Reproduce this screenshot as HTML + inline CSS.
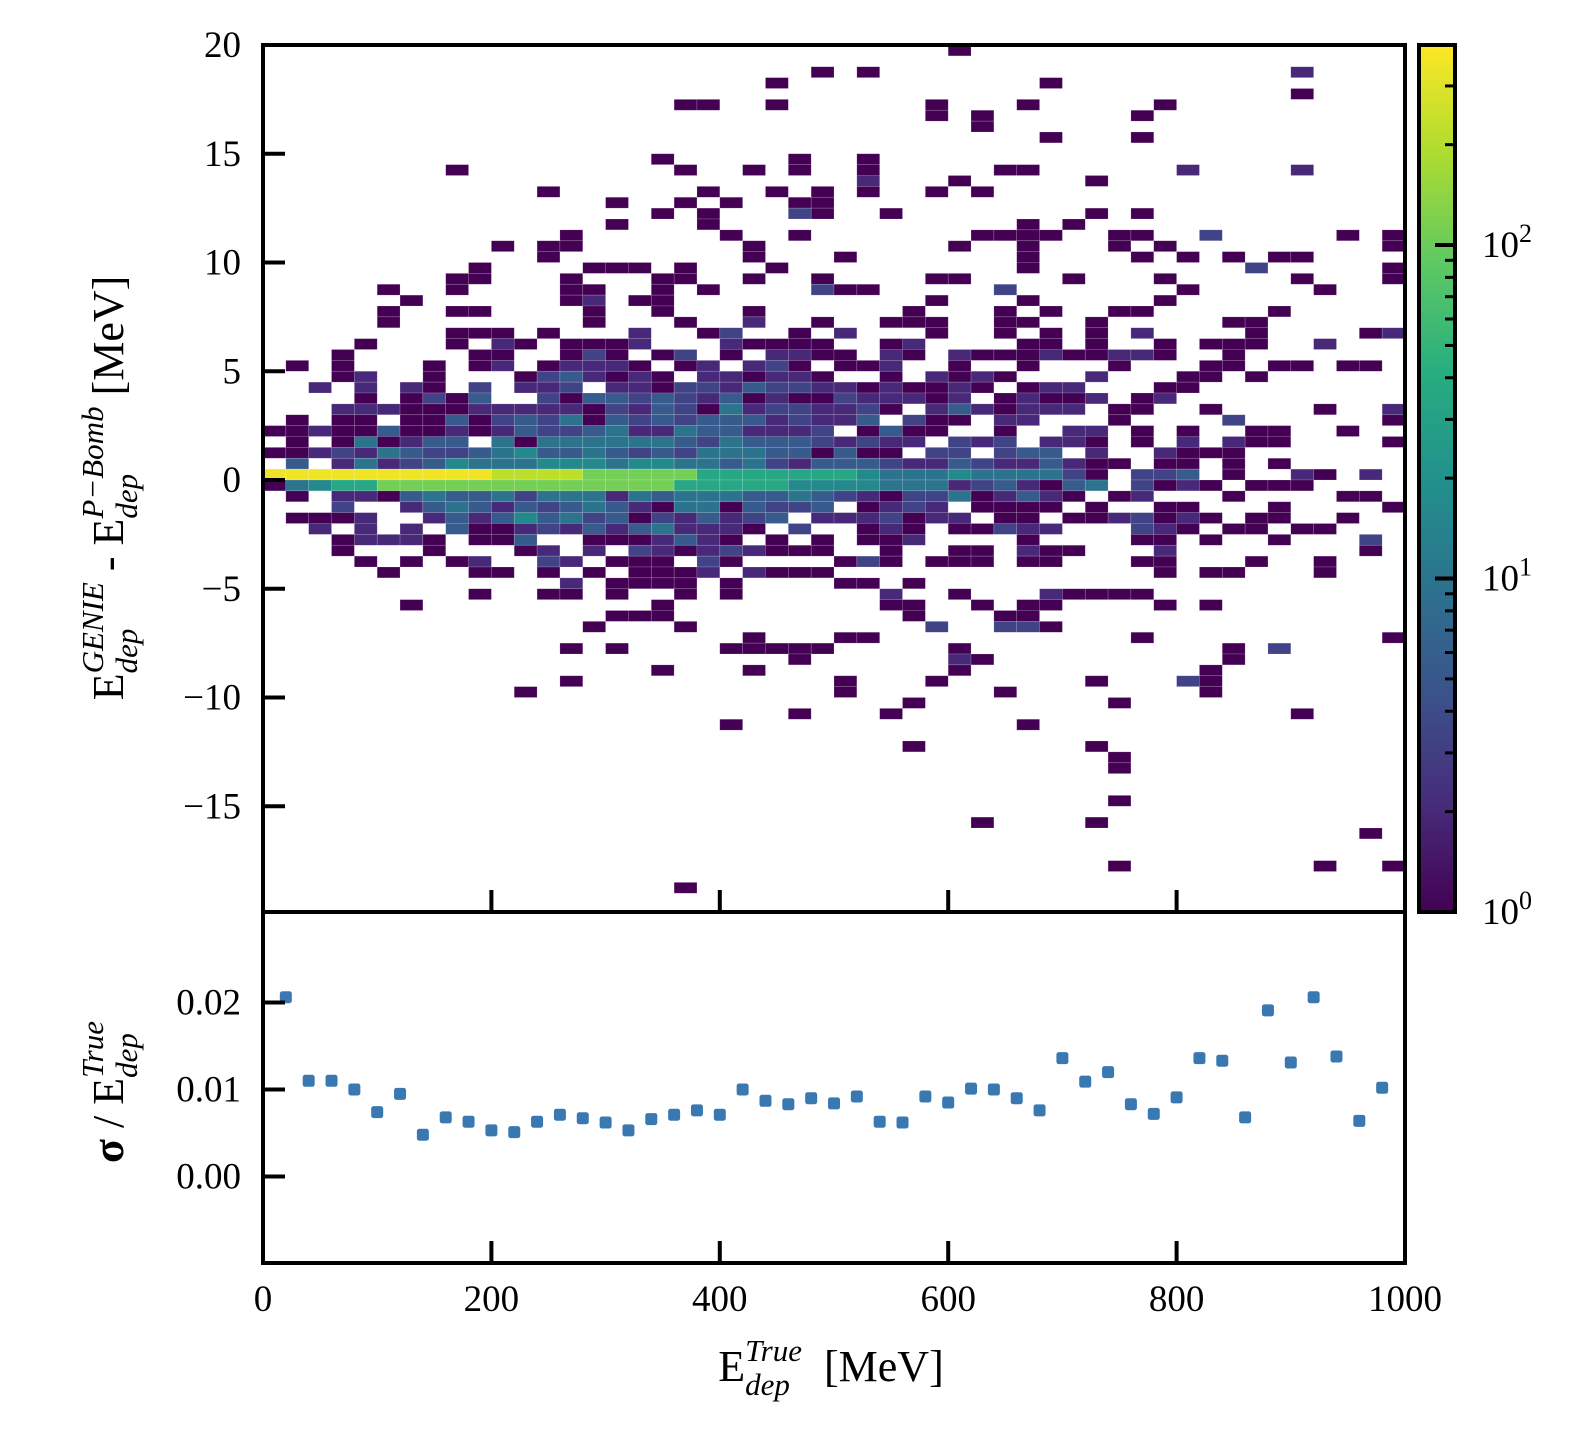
<!DOCTYPE html>
<html><head><meta charset="utf-8"><style>
html,body{margin:0;padding:0;background:#fff;}
svg{display:block;font-family:"Liberation Serif",serif;}
</style></head><body>
<svg id="chart" width="1570" height="1438" viewBox="0 0 1570 1438" xmlns="http://www.w3.org/2000/svg">
<defs>
<linearGradient id="vgrad" x1="0" y1="1" x2="0" y2="0">
<stop offset="0" stop-color="#440154"/><stop offset="0.125" stop-color="#472c7a"/><stop offset="0.25" stop-color="#3b528b"/><stop offset="0.375" stop-color="#2c728e"/><stop offset="0.5" stop-color="#21918c"/><stop offset="0.625" stop-color="#28ae80"/><stop offset="0.75" stop-color="#5ec962"/><stop offset="0.875" stop-color="#addc30"/><stop offset="1" stop-color="#fde725"/>
</linearGradient>
<clipPath id="mainclip"><rect x="263" y="45" width="1142" height="867"/></clipPath>
</defs>
<g id="heat" clip-path="url(#mainclip)"></g>
<g id="scatter"></g>
<g id="axes"></g>
</svg>
<script>
// ---- heatmap data: row index r covers y in [20-0.5(r+1), 20-0.5r], col c covers x in [20c, 20c+20]
const levelCounts = [0, 1, 2, 3.3, 5.5, 10, 17, 35, 110, 350, 220];
const heatRows = [
"30:1","","24:1 26:1 45:2","22:1 34:1","45:1",
"18-19:1 22:1 29:1 33:1 39:1","29:1 31:1 38:1","31:1","34:1 38:1","",
"17:1 23:1 26:1","8:1 18:1 21:1 23:1 26:1 32-33:1 40:2 45:2","26:2 30:1 36:1",
"12:1 19:1 22:1 24:1 26:1 29:1 31:1","15:1 18:1 20:1 23:1 24:1",
"17:1 19:1 23:3 24:1 27:1 36:1 38:1","15:1 19:1 33:1 35:1",
"13:1 20:1 23:1 31-34:1 37:1 38:1 41:3 47:1 49:1",
"10:1 12-13:1 21:1 30:1 33:1 37:1 39:1 49:1",
"12:1 21:1 25:1 33:1 38:1 40:1 42:1 44:1 45:1",
"9:1 14-16:1 18:1 22:1 33:1 43:3 49:1",
"8-9:1 13:1 17-18:1 21:1 24:1 29-30:1 35:1 39:1 45:1 49:1",
"5:1 8:1 13:1 14:1 17:1 19:1 24:3 25-26:1 32:3 40:1 46:1",
"6:1 13:1 14:2 16-17:1 29:1 33:1 39:1",
"5:1 8-9:1 14:1 17:1 21:1 28:1 32:1 34:1 37-38:1 44:1",
"5:1 14:1 18:1 21:2 24:1 27-29:1 32-33:1 36:1 42-43:1",
"8-10:1 12:1 16:2 19:1 20:3 23:1 25:2 29:1 32:1 34:1 36:1 38:2 43:1 48:1 49:2",
"4:1 8:1 10:2 11:1 13-15:1 16:2 20:2 21-24:1 27:1 28:2 33-34:1 36:1 39:1 41-43:1 46:2",
"3:1 9-10:1 13:1 14:3 15:1 17:1 18:3 20:1 22-23:2 24-25:1 27:2 28:1 30:2 31-33:1 34:2 35-36:1 37-38:2 39:1 42:1",
"1:1 3:1 7:1 9:1 10:2 12:1 13-15:2 16:1 18:1 19:2 21:2 22:3 23:1 25-26:1 27:2 30:1 33:1 37:1 41-42:1 44-45:1 47-48:1",
"3:1 4:2 7:1 11:1 12:3 13:4 14:2 15:1 16:2 17:1 19-20:2 21:1 22-23:2 24:1 27:1 29:2 30:1 31:2 32:1 36:2 40-41:1 43:1",
"2:2 4:2 6:2 7:1 9:3 11-12:2 13:3 15-16:2 17:1 18-19:3 20:2 21:4 22-23:3 24-25:2 26:1 27:2 28-29:1 30:2 31:1 33:1 34-35:2 39-40:1",
"4:1 6:1 7:3 8:1 9:4 12:3 13:1 14-15:4 16:3 17:4 18:3 19:2 20:4 21:1 22:2 23-24:1 25:3 26-28:2 29:1 30:2 32:1 33:2 34-35:1 36:2 38:1 39:2",
"3-5:2 6-8:1 9-13:2 14:1 15:3 16:2 17:4 18:3 19:1 20:5 21:2 22-23:3 24-25:2 26:3 27:1 29:2 30:4 31:2 32:1 33-35:2 37-38:1 41:1 46:1 49:2",
"1:1 3-4:1 6-7:1 8:4 9:1 10:3 11:4 12:3 13:5 14:1 15:4 16:3 17:4 18:3 19-21:4 22:2 23:3 24-25:2 26:4 28:3 29-30:1 32-33:2 37:1 42:3 49:1",
"0-1:1 2:2 3-4:1 5:4 6-7:1 8:2 9:1 10:2 11:4 12-13:3 14:4 15:5 16:2 17:2 18:5 19-20:4 21-23:2 24:3 26:1 27:4 28-29:1 32:1 35-36:2 38:1 40:1 43-44:1 47:1",
"1:1 3:1 4:5 5:1 6:2 7-8:4 10:5 11:1 12-16:5 17:5 18:4 19:3 20:5 21-23:4 24:3 25:2 26:3 27-28:2 30:3 31:2 32:3 34-35:2 36:1 38:1 40:2 42:2 43-44:1 49:1",
"0-1:1 2:2 3:3 4:2 5:5 6:4 7-8:3 9:4 10:5 11:6 12-13:4 14:5 15:4 16:3 17:4 18:3 19-21:5 22-23:4 24:1 25:4 26-27:1 29-30:3 32:3 33-34:4 36:2 39:2 40-42:1",
"1:4 3:2 4:5 5:2 6:3 7:4 8:6 9-11:5 12-14:6 15:5 16-17:6 18-19:5 20:4 21:5 22:3 23:2 24-26:4 27:3 28-29:2 30:4 31:3 32-33:2 34:4 35:2 36-37:1 39:1 40:1 42:1 44:1",
"0-9:9 10-13:10 14-18:8 19-25:7 26:6 27-29:5 30:6 31-34:5 35:3 36:1 38-39:3 40:4 42:1 45:2 46:1 48:2",
"0:1 1:5 2:6 3-4:7 5-17:8 18-22:7 23-26:6 27-29:5 30:2 31:3 32:4 33:2 34:1 35:4 36:5 38:3 39:1 40:2 41:1 43-45:1",
"1:1 3-4:2 5:1 6:4 7:5 8-9:4 10:5 11:3 12-14:5 15:2 16:5 17:4 18-20:5 21-22:4 23:5 24:4 25:3 26:2 27:1 28-29:3 30:5 31:1 32:2 33:4 34:2 35:1 37:1 38:2 42:1 47-48:1",
"3:3 6:2 7:4 8:5 9:4 10:2 11:4 12:3 13:4 14:5 15:4 16:2 17:1 18-19:5 20:1 21:4 22-23:3 24:4 26:1 27:2 28:3 29:2 31-34:1 36:1 39-40:1 44:1 49:1",
"1-3:1 4:2 7:2 8:4 9:2 10:4 11:6 12:4 13:5 14:3 15:4 16:1 17:3 18:2 19:4 20:2 21:3 22:4 24-26:2 27:3 28:1 29-30:2 32-33:1 35-36:1 37:2 38:3 39:1 40:2 41:1 43-44:1 47:1",
"2:2 4:2 6:2 8:4 9-10:1 11:2 12:3 13:2 14:4 15:2 16:4 17:5 18-20:2 21:1 23:3 26:1 27:2 28:1 30-31:1 32:3 33-34:2 38:3 39:2 40:1 42-43:1 45-46:1",
"3:1 4-6:2 7:1 9-10:1 11:4 14-16:1 17:2 18:4 19:2 20:1 22:1 24:1 26-27:1 28:2 33:1 38-39:1 41:1 44:1 48:3",
"3:1 7:1 11:1 12:2 14:2 16:3 17:2 18:1 19:2 20:3 21:2 22-24:1 27:1 30-31:1 33:2 34-35:1 39:2 48:1",
"4:1 6:1 8:1 9:2 12:3 13:2 15-17:1 19:3 20:1 25:1 26:3 27:1 29-31:1 33-34:1 38-39:1 43:1 46:1",
"5:1 9-10:1 12:1 14:1 16-18:1 19:2 21:2 22-24:1 39:1 41-42:1 46:1",
"13:2 15-18:1 20:1 25-26:1 28:1",
"9:1 12-13:1 15:1 18:1 20:1 27:2 30:1 34:2 35-38:1",
"6:1 17:1 27-28:1 31:1 33-34:1 39:1 41:1",
"15-17:1 28:1 32-33:1",
"14:1 18:1 29:3 32-33:3 34:1",
"21:1 25-26:1 38:1 49:1",
"13:1 15:1 20-24:1 30:1 42:1 44:3",
"23:1 30:2 31:1 42:1",
"17:1 21:1 30:1 41:1",
"13:1 25:1 29:1 36:1 40:3 41:1",
"11:1 25:1 32:1 41:1",
"28:1 37:1",
"23:1 27:1 45:1",
"20:1 33:1",
"",
"28:1 36:1",
"37:1","37:1","","","37:1","","31:1 36:1","48:1","","","37:1 46:1 49:1","","18:1","",""
];
// ---- resolution panel data
const resX = [20,40,60,80,100,120,140,160,180,200,220,240,260,280,300,320,340,360,380,400,420,440,460,480,500,520,540,560,580,600,620,640,660,680,700,720,740,760,780,800,820,840,860,880,900,920,940,960,980];
const resY = [0.0206,0.0110,0.0110,0.0100,0.0074,0.0095,0.0048,0.0068,0.0063,0.0053,0.0051,0.0063,0.0071,0.0067,0.0062,0.0053,0.0066,0.0071,0.0076,0.0071,0.0100,0.0087,0.0083,0.0090,0.0084,0.0092,0.0063,0.0062,0.0092,0.0085,0.0101,0.0100,0.0090,0.0076,0.0136,0.0109,0.0120,0.0083,0.0072,0.0091,0.0136,0.0133,0.0068,0.0191,0.0131,0.0206,0.0138,0.0064,0.0102];
const xTicks = [0,200,400,600,800,1000];
const yTicksMain = [20,15,10,5,0,-5,-10,-15];
const yTicksRes = [0.02,0.01,0.00];
const cbTicks = [0,1,2];

const NS = "http://www.w3.org/2000/svg";
const L = 263, R = 1405, T = 45, MB = 912, RT = 912, RB = 1263;
const sx = v => L + (v / 1000) * (R - L);
const sy = v => 480 - v * 21.75;
const sr = v => 1176.5 - v * 8700;
const cbTop = 45, cbBot = 912, cbMax = Math.log10(398);
const scb = e => cbBot - (e / cbMax) * (cbBot - cbTop);

const VIR = [[68,1,84],[72,40,120],[62,74,137],[49,104,142],[38,130,142],[31,158,137],[53,183,121],[110,206,88],[181,222,43],[253,231,37]];
function viridis(t){t=Math.max(0,Math.min(1,t));const p=t*(VIR.length-1);const i=Math.min(VIR.length-2,Math.floor(p));const f=p-i;
 const c=VIR[i].map((a,k)=>Math.round(a+(VIR[i+1][k]-a)*f));return `rgb(${c[0]},${c[1]},${c[2]})`;}

function mk(tag, attrs, parent){const e=document.createElementNS(NS,tag);for(const k in attrs)e.setAttribute(k,attrs[k]);parent.appendChild(e);return e;}

const heat = document.getElementById('heat');
heatRows.forEach((row, r) => {
  if (!row) return;
  row.split(' ').forEach(tok => {
    const [rng, lv] = tok.split(':');
    const [a, b] = rng.split('-').map(Number);
    const end = (b === undefined || isNaN(b)) ? a : b;
    for (let c = a; c <= end; c++) {
      const cnt = levelCounts[+lv];
      const x0 = sx(c * 20), x1 = sx(c * 20 + 20);
      const yTop = sy(20 - 0.5 * r), yBot = sy(20 - 0.5 * (r + 1));
      const el = mk('rect', {x:x0, y:yTop, width:x1-x0, height:yBot-yTop, fill:viridis(Math.log10(cnt)/cbMax), stroke:'rgba(255,255,255,0.25)', 'stroke-width':0.6}, heat);
      
      
    }
  });
});

const sc = document.getElementById('scatter');
resX.forEach((xv, i) => {
  const el = mk('rect', {x:sx(xv)-6, y:sr(resY[i])-6, width:12, height:12, rx:2.5, fill:'#3a78b2'}, sc);
  
  
});

const ax = document.getElementById('axes');
let f = mk('rect', {x:L, y:T, width:R-L, height:MB-T, fill:'none', stroke:'#000', 'stroke-width':4}, ax);
 
f = mk('rect', {x:L, y:RT, width:R-L, height:RB-RT, fill:'none', stroke:'#000', 'stroke-width':4}, ax);
 

const TK = 22, FS = 37;
xTicks.forEach(v => {
  const x = sx(v);
  mk('line', {x1:x, y1:MB, x2:x, y2:MB-TK, stroke:'#000', 'stroke-width':4}, ax);
  mk('line', {x1:x, y1:RB, x2:x, y2:RB-TK, stroke:'#000', 'stroke-width':4}, ax);
  const t = mk('text', {x:x, y:1311, 'font-size':FS, 'text-anchor':'middle'}, ax);
  t.textContent = String(v);
  
  
});
yTicksMain.forEach(v => {
  const y = sy(v);
  mk('line', {x1:L, y1:y, x2:L+TK, y2:y, stroke:'#000', 'stroke-width':4}, ax);
  const t = mk('text', {x:241, y:y+12, 'font-size':FS, 'text-anchor':'end'}, ax);
  t.textContent = v < 0 ? '\u2212' + Math.abs(v) : String(v);
  
  
});
yTicksRes.forEach(v => {
  const y = sr(v);
  mk('line', {x1:L, y1:y, x2:L+TK, y2:y, stroke:'#000', 'stroke-width':4}, ax);
  const t = mk('text', {x:241, y:y+12, 'font-size':FS, 'text-anchor':'end'}, ax);
  t.textContent = v.toFixed(2);
  
  
});

// colorbar
const cb = mk('g', {}, ax);
 
mk('rect', {x:1419, y:cbTop, width:36, height:cbBot-cbTop, fill:'url(#vgrad)', stroke:'#000', 'stroke-width':4}, cb);
cbTicks.forEach(e => {
  const y = scb(e);
  mk('line', {x1:1455, y1:y, x2:1435, y2:y, stroke:'#000', 'stroke-width':4}, cb);
  const t = mk('text', {x:1482, y:y+12, 'font-size':FS}, cb);
  
  
  t.textContent = '10';
  const s = mk('tspan', {dy:-15, 'font-size':26}, t); s.textContent = String(e);
  for (let m = 2; m <= 9; m++) {
    const ev = e + Math.log10(m);
    if (ev > cbMax) break;
    const ym = scb(ev);
    mk('line', {x1:1455, y1:ym, x2:1445, y2:ym, stroke:'#000', 'stroke-width':3}, cb);
  }
});

// flowing label layout
function layoutLabel(g, pieces, center){
  let x = 0; const els = [];
  pieces.forEach(p => {
    if (p.stack) {
      const a = mk('text', {x:x, y:-20, 'font-size':31, 'font-style':'italic'}, g); a.textContent = p.sup;
      const b = mk('text', {x:x, y:14, 'font-size':31, 'font-style':'italic'}, g); b.textContent = p.sub;
      const w = Math.max(a.getComputedTextLength(), b.getComputedTextLength());
      els.push(a, b); x += w;
    } else {
      const a = mk('text', {x:x, y:0, 'font-size':44, 'font-weight':p.bold?'bold':'normal'}, g);
      a.textContent = p.t;
      a.style.whiteSpace = 'pre';
      els.push(a); x += a.getComputedTextLength();
    }
  });
  const off = center - x / 2;
  els.forEach(e => e.setAttribute('x', +e.getAttribute('x') + off));
}

const xt = mk('g', {transform:'translate(0,1381)'}, ax);
 
layoutLabel(xt, [{t:'E'},{stack:1,sup:'True',sub:'dep'},{t:'  [MeV]'}], 831);

const yt = mk('g', {transform:'translate(123,0) rotate(-90)'}, ax);
 
layoutLabel(yt, [{t:'E'},{stack:1,sup:'GENIE',sub:'dep'},{t:' - E'},{stack:1,sup:'P\u2212Bomb',sub:'dep'},{t:' [MeV]'}], -488);

const rt = mk('g', {transform:'translate(123,0) rotate(-90)'}, ax);
 
layoutLabel(rt, [{t:'\u03c3', bold:1},{t:' / E'},{stack:1,sup:'True',sub:'dep'}], -1092);
</script>
</body></html>
